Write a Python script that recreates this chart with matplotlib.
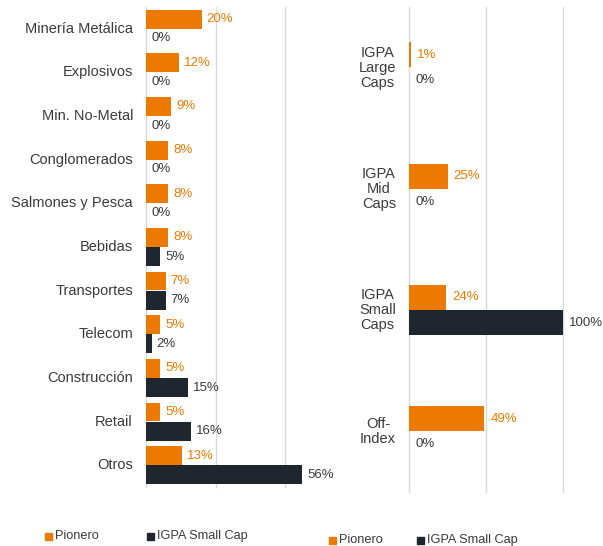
import matplotlib
matplotlib.use("Agg")
import matplotlib.pyplot as plt
from matplotlib.patches import Rectangle
from matplotlib.transforms import offset_copy

plt.rcParams['font.family'] = ['Liberation Sans', 'DejaVu Sans']

# ---- data ----
left_categories = ["Minería Metálica", "Explosivos", "Min. No-Metal", "Conglomerados",
                   "Salmones y Pesca", "Bebidas", "Transportes", "Telecom",
                   "Construcción", "Retail", "Otros"]
left_pionero = [20, 12, 9, 8, 8, 8, 7, 5, 5, 5, 13]
left_igpa = [0, 0, 0, 0, 0, 5, 7, 2, 15, 16, 56]

right_categories = ["IGPA\nLarge\nCaps", "IGPA\nMid\nCaps", "IGPA\nSmall\nCaps", "Off-\nIndex"]
right_pionero = [1, 25, 24, 49]
right_igpa = [0, 0, 100, 0]

series_names = ["Pionero", "IGPA Small Cap"]

ORANGE = "#EC7A00"
DARK = "#1F262E"
TEXT = "#3A3A3A"
GRID = "#D9D9D9"
FS = 10.5
VFS = 9.5
LFS = 9.2

W, H = 603, 546
fig = plt.figure(figsize=(W / 100, H / 100), dpi=100)


def px_axes(x0, y0, x1, y1):
    return fig.add_axes([x0 / W, 1 - y1 / H, (x1 - x0) / W, (y1 - y0) / H])


def draw_panel(ax, cats, a, b, xmax, grid, off_a, off_b, h, voff):
    n = len(cats)
    ys = list(range(n))
    ax.barh([y + off_a for y in ys], a, height=h, color=ORANGE, zorder=3)
    ax.barh([y + off_b for y in ys], b, height=h, color=DARK, zorder=3)
    ax.set_xlim(0, xmax)
    ax.set_ylim(n - 0.5, -0.5)
    for g in grid:
        ax.axvline(g, color=GRID, lw=1, zorder=1, clip_on=False)
    for s in ax.spines.values():
        s.set_visible(False)
    ax.set_xticks([])
    ax.set_yticks([])
    trans = offset_copy(ax.transData, fig=fig, x=voff, y=0, units='dots')
    for y, v in zip(ys, a):
        ax.text(v, y + off_a, f"{v}%", color=ORANGE, fontsize=VFS, va='center', ha='left',
                transform=trans)
    for y, v in zip(ys, b):
        ax.text(v, y + off_b, f"{v}%", color=TEXT, fontsize=VFS, va='center', ha='left',
                transform=trans)
    ltrans = offset_copy(ax.get_yaxis_transform(), fig=fig, x=-13, y=0, units='dots')
    for y, c in zip(ys, cats):
        ax.text(0, y, c, color=TEXT, fontsize=FS, va='center', ha='right',
                multialignment='center', linespacing=1.1, transform=ltrans)


axL = px_axes(146, 7, 146 + 62 * 2.786, 487)
draw_panel(axL, left_categories, left_pionero, left_igpa, 62, [0, 25, 50], -0.22, 0.22, 0.43, 5)

axR = px_axes(409, 7, 563, 492)
draw_panel(axR, right_categories, right_pionero, right_igpa, 100, [0, 50, 100], -0.105, 0.105, 0.205, 6)


def legend_item(x, y, color, label):
    fig.patches.append(Rectangle((x / W, 1 - (y + 3.5) / H), 7 / W, 7 / H,
                                 transform=fig.transFigure, color=color))
    fig.text((x + 10) / W, 1 - y / H, label, color=TEXT, fontsize=LFS, va='center', ha='left')


legend_item(45, 536, ORANGE, series_names[0])
legend_item(147, 536, DARK, series_names[1])
legend_item(329, 540, ORANGE, series_names[0])
legend_item(417, 540, DARK, series_names[1])

fig.savefig("out.png", dpi=100, facecolor="white")
